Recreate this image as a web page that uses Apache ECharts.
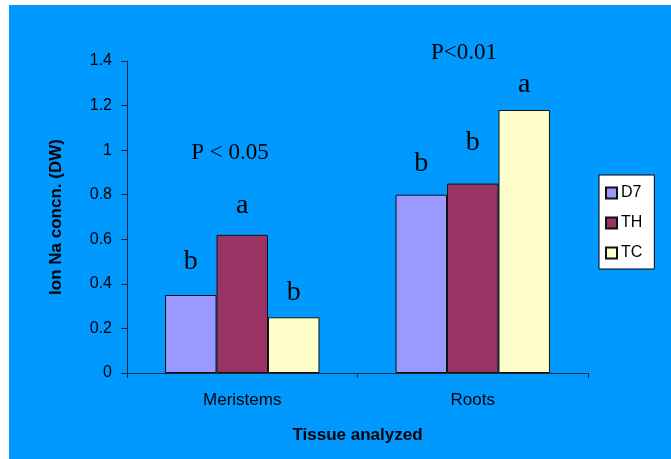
<!DOCTYPE html>
<html><head><meta charset="utf-8">
<script src="https://cdn.jsdelivr.net/npm/echarts@6/dist/echarts.min.js"></script>
<style>html,body{margin:0;padding:0;background:#fff;}#c{width:671px;height:459px;}</style>
</head><body><div id="c"></div>
<script>
const categories = ['Meristems', 'Roots'];
const seriesNames = ['D7', 'TH', 'TC'];
const d7 = [0.35, 0.80];
const th = [0.62, 0.85];
const tc = [0.25, 1.18];
const d7Letters = ['b', 'b'];
const thLetters = ['a', 'b'];
const tcLetters = ['b', 'a'];
const yTicks = [0, 0.2, 0.4, 0.6, 0.8, 1, 1.2, 1.4];

const colors = ['#9999FF', '#993366', '#FFFFCC'];
const letterDist = [[19, 17], [15, 27], [11, 11]];
const values = [d7, th, tc];
const letters = [d7Letters, thLetters, tcLetters];

const chart = echarts.init(document.getElementById('c'));
chart.setOption({
  backgroundColor: '#fff',
  animation: false,
  graphic: [
    {type: 'rect', left: 9, top: 5, shape: {width: 662, height: 454}, style: {fill: '#0099FF'}, z: -10},
    {type: 'text', x: 230, y: 153, style: {text: 'P < 0.05', font: '23px "Liberation Serif", "Times New Roman", serif', fill: '#000', textAlign: 'center', textVerticalAlign: 'middle'}},
    {type: 'text', x: 464, y: 53, style: {text: 'P<0.01', font: '23px "Liberation Serif", "Times New Roman", serif', fill: '#000', textAlign: 'center', textVerticalAlign: 'middle'}}
  ],
  legend: {
    orient: 'vertical', left: 599, top: 175, width: 55,
    data: seriesNames,
    backgroundColor: '#fff', borderColor: '#000', borderWidth: 1,
    padding: [10, 12, 8, 6],
    itemWidth: 11, itemHeight: 11, itemGap: 14,
    textStyle: {fontFamily: 'Liberation Sans, Arial', fontSize: 16, color: '#000', padding: [0, 0, 0, -1]},
    icon: 'rect'
  },
  grid: {left: 127, right: 83, top: 61, bottom: 86},
  xAxis: {
    type: 'category', data: categories,
    name: 'Tissue analyzed', nameLocation: 'middle', nameGap: 54,
    nameTextStyle: {fontFamily: 'Liberation Sans, Arial', fontSize: 17, fontWeight: 'bold', color: '#000'},
    axisLine: {lineStyle: {color: '#1a2a3a', width: 1}},
    axisTick: {show: true, length: 5, lineStyle: {color: '#1a2a3a'}},
    axisLabel: {fontFamily: 'Liberation Sans, Arial', fontSize: 17, color: '#000', margin: 19}
  },
  yAxis: {
    type: 'value', min: 0, max: 1.4, interval: 0.2,
    name: 'Ion Na concn. (DW)', nameLocation: 'middle', nameGap: 62, nameRotate: 90,
    nameTextStyle: {fontFamily: 'Liberation Sans, Arial', fontSize: 17, fontWeight: 'bold', color: '#000'},
    axisLine: {show: true, lineStyle: {color: '#1a2a3a', width: 1}},
    axisTick: {show: true, length: 6, lineStyle: {color: '#1a2a3a'}},
    splitLine: {show: false},
    axisLabel: {fontFamily: 'Liberation Sans, Arial', fontSize: 16, color: '#000', margin: 15,
      formatter: v => { const t = yTicks.find(x => Math.abs(x - v) < 1e-9); return t === undefined ? '' : String(t); }}
  },
  series: seriesNames.map((n, i) => ({
    name: n, type: 'bar',
    barGap: '0%', barCategoryGap: '33%',
    itemStyle: {color: colors[i], borderColor: '#111', borderWidth: 1},
    data: values[i].map((v, j) => ({
      value: v,
      label: {show: true, position: 'top', distance: letterDist[i][j], formatter: letters[i][j],
        fontFamily: '"Liberation Serif", "Times New Roman", serif', fontSize: 28, color: '#000'}
    }))
  }))
});
</script></body></html>
